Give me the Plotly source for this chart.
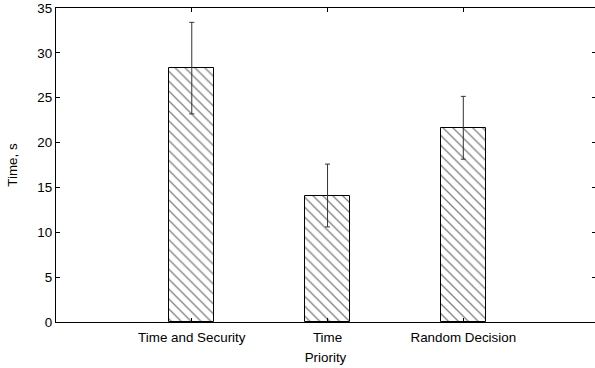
import plotly.graph_objects as go

categories = ["Time and Security", "Time", "Random Decision"]
mean_time = [28.3, 14.1, 21.65]
err_time = [5.1, 3.5, 3.5]
y_ticks = [0, 5, 10, 15, 20, 25, 30, 35]

FONT = "Liberation Sans, Arial, Helvetica, sans-serif"
FS = 13.4

fig = go.Figure()
fig.add_trace(go.Bar(
    x=categories,
    y=mean_time,
    width=0.333,
    marker=dict(
        color="white",
        line=dict(color="black", width=1),
        pattern=dict(shape="\\", fgcolor="black", bgcolor="white", size=7, solidity=0.18),
    ),
    error_y=dict(type="data", array=err_time, visible=True, color="#333333", thickness=1, width=2.5),
    showlegend=False,
))

fig.update_layout(
    width=595, height=368,
    margin=dict(l=56, r=0, t=8, b=46),
    paper_bgcolor="white", plot_bgcolor="white",
    font=dict(family=FONT, size=FS, color="black"),
    bargap=0,
    xaxis=dict(
        range=[-1, 2.97],
        showline=True, linecolor="black", linewidth=1.2, mirror="ticks",
        ticks="inside", ticklen=4, tickcolor="black",
        showgrid=False, zeroline=False,
        tickfont=dict(size=FS), ticklabelstandoff=3,
        title=dict(text="Priority", standoff=8, font=dict(size=FS)),
    ),
    yaxis=dict(
        range=[0, 35], tickvals=y_ticks,
        showline=True, linecolor="black", linewidth=1.2,
        ticks="inside", ticklen=4, tickcolor="black",
        showgrid=False, zeroline=False,
        tickfont=dict(size=FS), ticksuffix="\u00a0",
        title=dict(text="Time, s", standoff=16, font=dict(size=FS)),
    ),
    yaxis2=dict(
        range=[0, 35], tickvals=y_ticks, overlaying="y", side="right", anchor="x",
        showline=False, ticks="inside", ticklen=3, tickcolor="black",
        showticklabels=False, showgrid=False, zeroline=False,
    ),
)
fig.add_trace(go.Scatter(x=[categories[0]], y=[None], yaxis="y2", showlegend=False, hoverinfo="skip"))

fig.write_html("out.html")
